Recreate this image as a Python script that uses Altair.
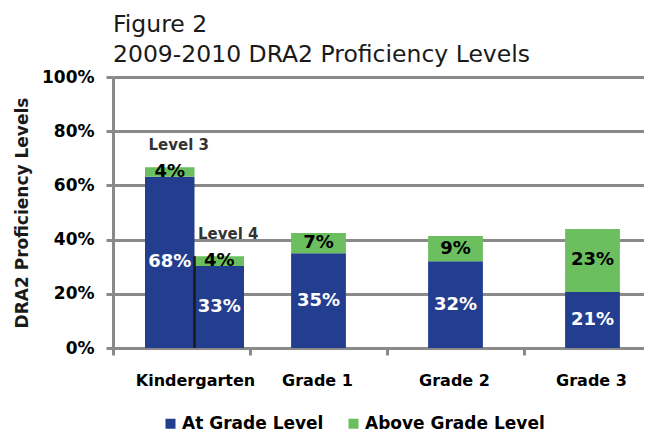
import altair as alt
import pandas as pd

# ---- data ----
grades = ["Kindergarten", "Grade 1", "Grade 2", "Grade 3"]
levels = ["Level 3", "Level 4"]
bar_grade = ["Kindergarten", "Kindergarten", "Grade 1", "Grade 2", "Grade 3"]
bar_level = ["Level 3", "Level 4", "", "", ""]
series = ["At Grade Level", "Above Grade Level"]
at_values = [63.2, 30.3, 35.0, 32.0, 20.7]
above_values = [3.5, 3.6, 7.4, 9.3, 23.2]
at_labels = ["68%", "33%", "35%", "32%", "21%"]
above_labels = ["4%", "4%", "7%", "9%", "23%"]
y_ticks = [0, 20, 40, 60, 80, 100]
title_lines = ["Figure 2", "2009-2010 DRA2 Proficiency Levels"]
y_title = "DRA2 Proficiency Levels"

rows = []
for i in range(len(bar_grade)):
    rows.append(dict(bar=i, grade=bar_grade[i], level=bar_level[i], series=series[0],
                     order=0, value=at_values[i], label=at_labels[i]))
    rows.append(dict(bar=i, grade=bar_grade[i], level=bar_level[i], series=series[1],
                     order=1, value=above_values[i], label=above_labels[i]))
df = pd.DataFrame(rows)

FONT = "DejaVu Sans"
GRAY = "#8a8a8a"
BLUE = "#233e8f"
GREEN = "#6cbf5f"

base = alt.Chart(df).transform_stack(
    stack="value", groupby=["bar"], sort=[alt.SortField("order")], as_=["y0", "y1"]
).transform_calculate(mid="(datum.y0 + datum.y1) / 2")

k_base = base.transform_filter("datum.grade === 'Kindergarten'")
o_base = base.transform_filter("datum.grade !== 'Kindergarten'")

x_scale = alt.Scale(domain=grades, range=[0, 548], paddingInner=0, paddingOuter=0)
x_axis = alt.Axis(
    title=None, bandPosition=0, labelAngle=0, labelOverlap=False,
    labelOffset={"condition": {"test": "datum.value === 'Kindergarten'", "value": 14}, "value": -1},
    labelFont=FONT, labelFontSize=16, labelFontWeight="bold", labelColor="black",
    labelPadding=17, tickSize=7, tickWidth=3, tickColor=GRAY,
    domainColor=GRAY, domainWidth=3, grid=False,
)
X = alt.X("grade:N", scale=x_scale, axis=x_axis, sort=grades)
XO = alt.XOffset("level:N", scale=alt.Scale(domain=levels, range=[32, 131], paddingInner=0, paddingOuter=0))

y_scale = alt.Scale(domain=[0, 100], nice=False)
y_axis = alt.Axis(
    title=y_title, values=y_ticks, labelExpr="datum.value + '%'",
    labelFont=FONT, labelFontSize=17, labelFontWeight="bold", labelColor="black",
    labelPadding=12, tickSize=7, tickWidth=3, tickColor=GRAY,
    domainColor=GRAY, domainWidth=3, gridColor=GRAY, gridWidth=3,
    titleFont=FONT, titleFontSize=17, titleFontWeight="bold", titleColor="#1a1a1a",
    titlePadding=10,
)
Y = alt.Y("y0:Q", scale=y_scale, axis=y_axis)

color = alt.Color(
    "series:N", scale=alt.Scale(domain=series, range=[BLUE, GREEN]),
    legend=alt.Legend(
        title=None, orient="none", legendX=49, legendY=338, direction="horizontal",
        symbolType="square", symbolSize=100, symbolStrokeWidth=0,
        labelFont=FONT, labelFontSize=17, labelFontWeight="bold", labelColor="black",
        columnPadding=21, labelOffset=3, labelLimit=300,
    ),
)

k_bars = k_base.mark_bar().encode(x=X, xOffset=XO, y=Y, y2="y1:Q", color=color)
o_bars = o_base.mark_bar(width=alt.RelativeBandSize(0.4)).encode(x=X, y=Y, y2="y1:Q", color=color)

txt_color = alt.condition("datum.order === 0", alt.value("white"), alt.value("black"))
k_text = k_base.mark_text(font=FONT, fontSize=18, fontWeight="bold", baseline="middle").encode(
    x=X, xOffset=XO, y=alt.Y("mid:Q"), text="label:N", color=txt_color)
o_text = o_base.mark_text(font=FONT, fontSize=18, fontWeight="bold", baseline="middle").encode(
    x=X, y=alt.Y("mid:Q"), text="label:N", color=txt_color)

lvl_text = k_base.transform_filter("datum.order === 1").mark_text(
    font=FONT, fontSize=15, fontWeight="bold", color="#333333",
    baseline="alphabetic", dy=-17, dx=9,
).encode(x=X, xOffset=XO, y=alt.Y("y1:Q"), text="level:N")

divider = k_base.transform_filter("datum.level === 'Level 4' && datum.order === 1").mark_rule(
    color="#1a1a1a", strokeWidth=2.5, xOffset=13,
).encode(x=X, y=alt.Y("y1:Q"), y2=alt.datum(0))

chart = alt.layer(k_bars, o_bars, divider, k_text, o_text, lvl_text).properties(
    width=531, height=271,
    autosize=alt.AutoSizeParams(type="none"),
    padding={"left": 105, "top": 69, "right": 0, "bottom": 84},
    title=alt.TitleParams(
        text=title_lines, anchor="start", frame="group", font=FONT, fontSize=23.5,
        fontWeight="normal", color="#1a1a1a", lineHeight=30, baseline="alphabetic",
        offset=10, dy=27,
    ),
).configure_view(stroke=None).configure(background="white")

chart.save("out.html", embed_options={"renderer": "svg", "actions": False})
